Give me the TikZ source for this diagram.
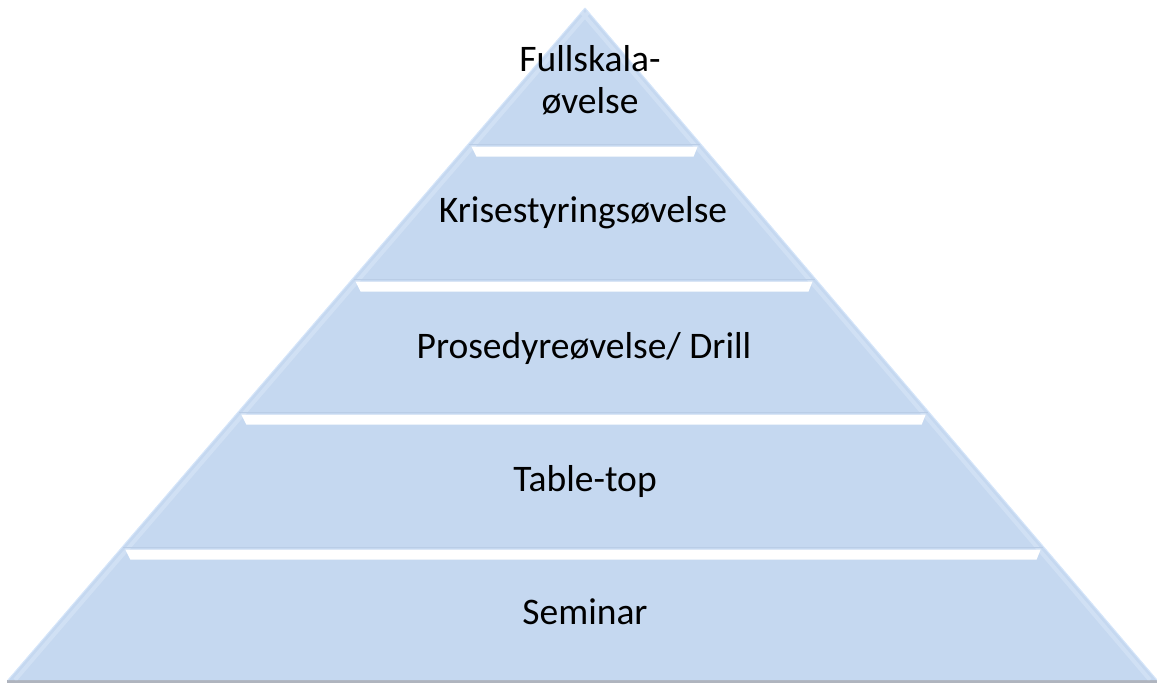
\documentclass[tikz,border=0pt]{standalone}
\usepackage{fontspec}
\setmainfont{Carlito}
\definecolor{tierfill}{RGB}{197,216,240}
\definecolor{tieredge}{RGB}{208,224,244}
\definecolor{tierline}{RGB}{214,230,250}
\definecolor{tierdark}{RGB}{186,205,230}
\definecolor{baseshadow}{RGB}{175,180,190}
\tikzset{
  tier/.style={fill=tierfill, draw=none},
  rim/.style={draw=tieredge, line width=4pt},
  glint/.style={fill=white, draw=none},
  seam/.style={draw=tierdark, line width=1pt},
  lbl/.style={font=\fontsize{37.5}{42}\selectfont, text=black, align=center, inner sep=0pt},
}
\begin{document}
\begin{tikzpicture}[x=1pt,y=-1pt]
\useasboundingbox (0,0) rectangle (1157,683);
\coordinate (A)  at (585,8);
\coordinate (L1) at (467.4,145); \coordinate (R1) at (701.6,145);
\coordinate (L2) at (351.5,280); \coordinate (R2) at (816.5,280);
\coordinate (L3) at (237.3,413); \coordinate (R3) at (929.7,413);
\coordinate (L4) at (121.3,548); \coordinate (R4) at (1044.6,548);
\coordinate (L5) at (8,680);     \coordinate (R5) at (1157,680);
% base shadow
\fill[baseshadow] (7,679.5) rectangle (1157,683);
% tiers
\fill[tier] (A) -- (R1) -- (L1) -- cycle;
\fill[tier] (L1) -- (R1) -- (R2) -- (L2) -- cycle;
\fill[tier] (L2) -- (R2) -- (R3) -- (L3) -- cycle;
\fill[tier] (L3) -- (R3) -- (R4) -- (L4) -- cycle;
\fill[tier] (L4) -- (R4) -- (R5) -- (L5) -- cycle;
% soft rims along slanted sides
\begin{scope}
\clip (A) -- (R5) -- (L5) -- cycle;
\draw[rim] ([shift={(7,0)}]A) -- ([shift={(7,0)}]L5);
\draw[rim] ([shift={(-7,0)}]A) -- ([shift={(-7,0)}]R5);
\end{scope}
\draw[draw=tierline, line width=1pt] (A) -- (L5);
\draw[draw=tierline, line width=1pt] (A) -- (R5);
% seams and white glints at each tier top
\foreach \l/\r/\y in {467.4/701.6/145, 351.5/816.5/280, 237.3/929.7/413, 121.3/1044.6/548}{
  \draw[seam] (\l+2,\y-1) -- (\r-2,\y-1);
  \fill[glint] (\l+4,\y+1.5) -- (\r-4,\y+1.5) -- (\r-8,\y+11.5) -- (\l+9,\y+11.5) -- cycle;
}
% labels
\node[lbl] (t1) at (590,80) {Fullskala-\\øvelse};
\node[lbl] (t2) at (583,213) {Krisestyringsøvelse};
\node[lbl] (t3) at (584,348) {Prosedyreøvelse/ Drill};
\node[lbl] (t4) at (585,481) {Table-top};
\node[lbl] (t5) at (585,612) {Seminar};
\end{tikzpicture}
\end{document}
